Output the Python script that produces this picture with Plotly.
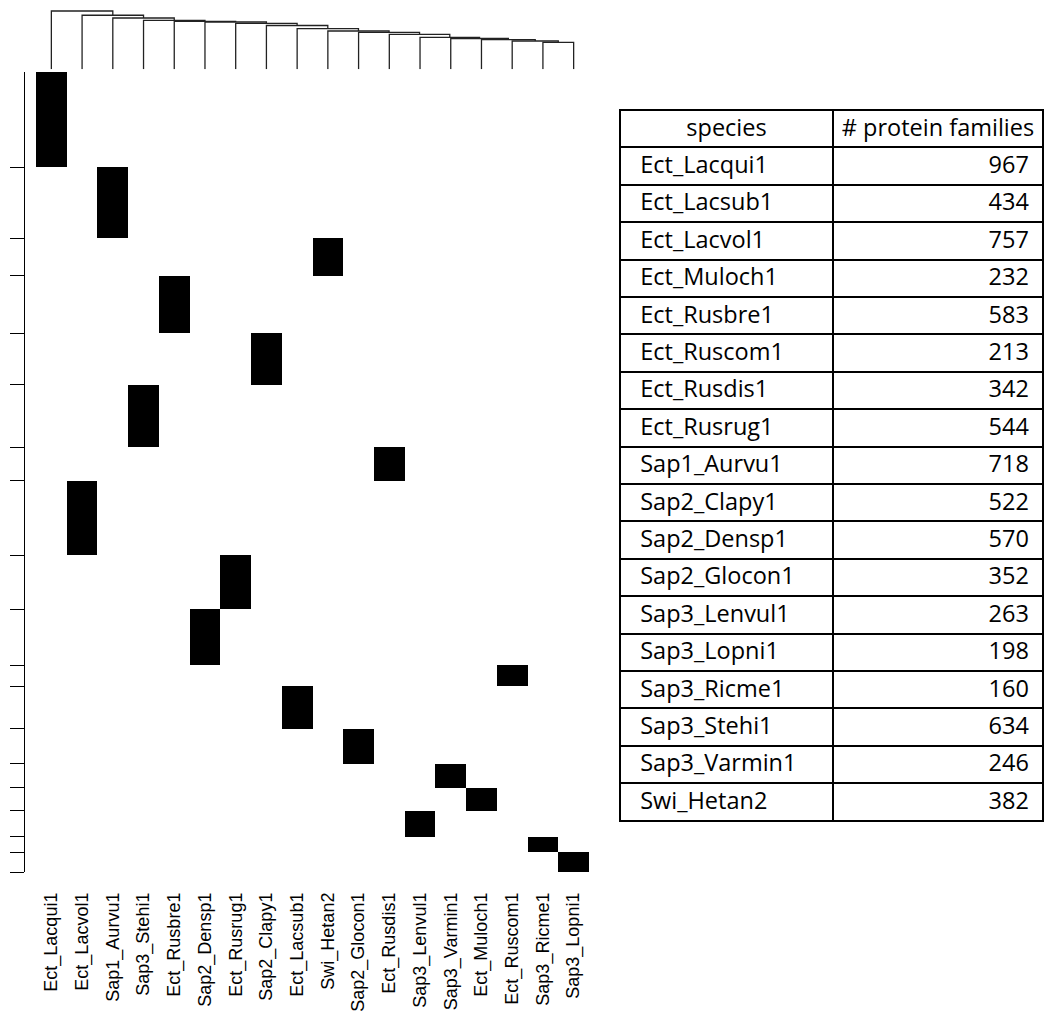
import plotly.graph_objects as go

W, H = 1046, 1014

# ---- data ----
col_species = ["Ect_Lacqui1", "Ect_Lacvol1", "Sap1_Aurvu1", "Sap3_Stehi1", "Ect_Rusbre1",
               "Sap2_Densp1", "Ect_Rusrug1", "Sap2_Clapy1", "Ect_Lacsub1", "Swi_Hetan2",
               "Sap2_Glocon1", "Ect_Rusdis1", "Sap3_Lenvul1", "Sap3_Varmin1", "Ect_Muloch1",
               "Ect_Ruscom1", "Sap3_Ricme1", "Sap3_Lopni1"]

row_species = ["Ect_Lacqui1", "Sap1_Aurvu1", "Swi_Hetan2", "Ect_Rusbre1", "Sap2_Clapy1",
               "Sap3_Stehi1", "Ect_Rusdis1", "Ect_Lacvol1", "Ect_Rusrug1", "Sap2_Densp1",
               "Ect_Ruscom1", "Ect_Lacsub1", "Sap2_Glocon1", "Sap3_Varmin1", "Ect_Muloch1",
               "Sap3_Lenvul1", "Sap3_Ricme1", "Sap3_Lopni1"]

table_header = ["species", "#\u00a0protein\u00a0families"]
table_species = ["Ect_Lacqui1", "Ect_Lacsub1", "Ect_Lacvol1", "Ect_Muloch1", "Ect_Rusbre1",
                 "Ect_Ruscom1", "Ect_Rusdis1", "Ect_Rusrug1", "Sap1_Aurvu1", "Sap2_Clapy1",
                 "Sap2_Densp1", "Sap2_Glocon1", "Sap3_Lenvul1", "Sap3_Lopni1", "Sap3_Ricme1",
                 "Sap3_Stehi1", "Sap3_Varmin1", "Swi_Hetan2"]
protein_families = [967, 434, 757, 232, 583, 213, 342, 544, 718, 522, 570, 352, 263, 198,
                    160, 634, 246, 382]

# dendrogram merge heights (caterpillar: leaf k joins cluster of leaves k+1..)
merge_heights = [0.967, 0.896, 0.851, 0.813, 0.796, 0.784, 0.760, 0.726, 0.673, 0.635,
                 0.614, 0.580, 0.531, 0.511, 0.491, 0.469, 0.448]

# ---- derived ----
count_of = dict(zip(table_species, protein_families))
bar_x, bar_y, bar_base, tickvals_y = [], [], [], []
cum = 0
for sp in row_species:
    c = count_of[sp]
    bar_x.append(col_species.index(sp))
    bar_y.append(c)
    bar_base.append(cum)
    cum += c
    tickvals_y.append(cum)
total = cum

fig = go.Figure()

fig.add_trace(go.Bar(x=bar_x, y=bar_y, base=bar_base, width=1.0,
                     marker=dict(color="black", line=dict(width=0)),
                     xaxis="x", yaxis="y", showlegend=False, hoverinfo="skip"))

# dendrogram
n = len(col_species)
pos = {}
pos[n - 2] = (n - 2 + n - 1) / 2.0
for k in range(n - 3, -1, -1):
    pos[k] = (k + pos[k + 1]) / 2.0
dx, dy = [], []
for k in range(n - 1):
    h = merge_heights[k]
    right_x = pos[k + 1] if k + 1 <= n - 2 else n - 1
    right_h = merge_heights[k + 1] if k + 1 <= n - 2 else 0.0
    dx += [k, k, right_x, right_x, None]
    dy += [0.0, h, h, right_h, None]
fig.add_trace(go.Scatter(x=dx, y=dy, mode="lines", line=dict(color="#222222", width=1.3),
                         xaxis="x2", yaxis="y2", showlegend=False, hoverinfo="skip"))

# table
tfont = dict(family="Open Sans", size=23.5, color="black")
fig.add_trace(go.Table(
    domain=dict(x=[620 / W, 1043 / W], y=[0, (H - 110) / H]),
    columnwidth=[213, 210],
    header=dict(values=table_header, align="center", height=37.4,
                line=dict(color="black", width=2), fill=dict(color="white"),
                font=tfont),
    cells=dict(values=[table_species, protein_families], align=["left", "right"], height=37.4,
               prefix=["\u00a0\u00a0", ""], suffix=["", "\u00a0"],
               line=dict(color="black", width=2), fill=dict(color="white"),
               font=tfont),
))

xd = [36 / W, 589 / W]
fig.update_layout(
    width=W, height=H, margin=dict(l=0, r=0, t=0, b=0),
    paper_bgcolor="white", plot_bgcolor="white",
    bargap=0,
    xaxis=dict(domain=xd, range=[-0.5, n - 0.5], tickmode="array",
               tickvals=list(range(n)), ticktext=col_species, tickangle=-90,
               showgrid=False, zeroline=False, showline=False, ticks="",
               ticklabelstandoff=16, anchor="y", automargin=False,
               tickfont=dict(family="Liberation Sans, Arial", size=18, color="black")),
    yaxis=dict(domain=[(H - 872) / H, (H - 72) / H], range=[total, 0], autorange=False,
               anchor="free", position=24 / W, showgrid=False, zeroline=False,
               showline=True, linecolor="black", linewidth=1.2, automargin=False,
               ticks="outside", ticklen=14, tickcolor="black", tickwidth=1.2,
               tickmode="array", tickvals=tickvals_y, showticklabels=False),
    xaxis2=dict(domain=xd, range=[-0.5, n - 0.5], anchor="y2", visible=False,
                automargin=False),
    yaxis2=dict(domain=[(H - 69.3) / H, (H - 9) / H], range=[0, 1], anchor="x2",
                visible=False, automargin=False),
)

fig.write_html("out.html")
